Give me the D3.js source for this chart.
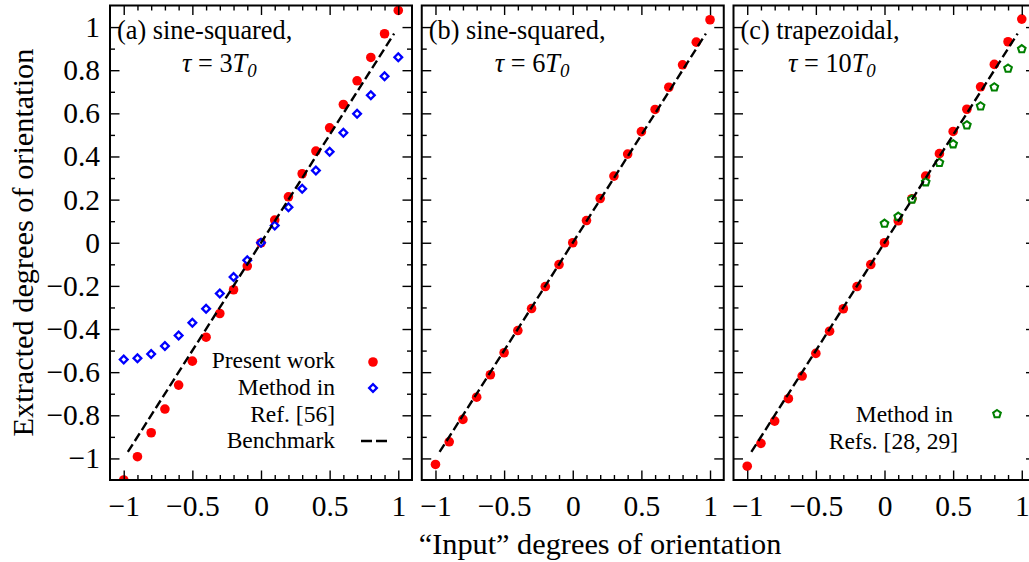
<!DOCTYPE html>
<html>
<head>
<meta charset="utf-8">
<script src="https://cdn.jsdelivr.net/npm/d3@7"></script>
<style>
  html, body { margin: 0; padding: 0; background: #fff; }
  svg { display: block; }
  text { font-family: "Liberation Serif", "Times New Roman", serif; fill: #000; }
</style>
</head>
<body>
<svg id="chart" width="1029" height="562" font-family="Liberation Serif"></svg>
<script>
// ---------------- data ----------------
const inputX = [-1, -0.9, -0.8, -0.7, -0.6, -0.5, -0.4, -0.3, -0.2, -0.1, 0,
                0.1, 0.2, 0.3, 0.4, 0.5, 0.6, 0.7, 0.8, 0.9, 1];
const presentA = [-1.10, -0.992, -0.881, -0.771, -0.660, -0.549, -0.438, -0.328, -0.218, -0.108, 0,
                  0.105, 0.213, 0.320, 0.425, 0.533, 0.641, 0.751, 0.859, 0.969, 1.077];
const ref56A = [-0.541, -0.536, -0.516, -0.479, -0.430, -0.371, -0.306, -0.235, -0.159, -0.081, 0,
                0.080, 0.165, 0.250, 0.335, 0.422, 0.510, 0.598, 0.684, 0.772, 0.860];
const presentB = [-1.028, -0.923, -0.819, -0.716, -0.612, -0.510, -0.407, -0.305, -0.203, -0.101, 0,
                  0.103, 0.205, 0.309, 0.411, 0.515, 0.618, 0.721, 0.825, 0.930, 1.034];
const presentC = [-1.036, -0.930, -0.827, -0.723, -0.618, -0.513, -0.410, -0.306, -0.203, -0.101, 0,
                  0.102, 0.204, 0.309, 0.413, 0.516, 0.619, 0.723, 0.827, 0.932, 1.037];
const refs2829X = [0, 0.1, 0.2, 0.3, 0.4, 0.5, 0.6, 0.7, 0.8, 0.9, 1];
const refs2829C = [0.089, 0.121, 0.201, 0.281, 0.371, 0.457, 0.545, 0.633, 0.721, 0.808, 0.898];
const benchmarkX = [-0.97, 0.97];
const benchmarkY = [-0.97, 0.97];

const xTickLabels = [-1, -0.5, 0, 0.5, 1];
const yTickLabels = [-1, -0.8, -0.6, -0.4, -0.2, 0, 0.2, 0.4, 0.6, 0.8, 1];
const panelTitles = ["(a) sine-squared,", "(b) sine-squared,", "(c) trapezoidal,"];
const panelTau = ["3", "6", "10"];
const legendA = ["Present work", "Method in", "Ref. [56]", "Benchmark"];
const legendC = ["Method in", "Refs. [28, 29]"];
const xLabel = "\u201CInput\u201D degrees of orientation";
const yLabel = "Extracted degrees of orientation";

// ---------------- layout ----------------
const panelW = 302, panelH = 474.5, panelTop = 5.5, firstLeft = 110, gap = 9.75;
const RED = "#ff0000", BLUE = "#0000ff", GREEN = "#008000";
const tickFont = 29.5, labelFont = 30.3, titleFont = 26.3, legendFont = 23.5;
const FONT = "Liberation Serif";

const svg = d3.select("#chart");

const x = d3.scaleLinear().domain([-1.1, 1.1]).range([0, panelW]);
const y = d3.scaleLinear().domain([-1.1, 1.1]).range([panelH, 0]);

const xMinor = d3.range(-10, 11).map(d => d / 10);
const yMinor = d3.range(-10, 11).map(d => d / 10);

// pentagon symbol
const pentagon = {
  draw(ctx, size) {
    const r = Math.sqrt(size / 2.378);
    for (let i = 0; i < 5; i++) {
      const a = -Math.PI / 2 + i * 2 * Math.PI / 5;
      const px = r * Math.cos(a), py = r * Math.sin(a);
      if (i === 0) ctx.moveTo(px, py); else ctx.lineTo(px, py);
    }
    ctx.closePath();
  }
};
const diamondPath = d3.symbol(d3.symbolSquare, 30)();
const pentaPath = d3.symbol(pentagon, 38)();

const panels = [
  { present: presentA, other: ref56A, otherX: inputX, otherType: "diamond", tauOffset: 72 },
  { present: presentB, other: null, tauOffset: 73 },
  { present: presentC, other: refs2829C, otherX: refs2829X, otherType: "penta", tauOffset: 54.5 }
];

const defs = svg.append("defs");

panels.forEach((p, i) => {
  const left = firstLeft + i * (panelW + gap);
  const g = svg.append("g").attr("transform", `translate(${left},${panelTop})`);

  defs.append("clipPath").attr("id", "clip" + i)
    .append("rect").attr("x", 0).attr("y", 0).attr("width", panelW).attr("height", panelH);

  const plot = g.append("g").attr("clip-path", `url(#clip${i})`);

  // present work: red circles
  plot.selectAll("circle.present").data(inputX.map((v, k) => [v, p.present[k]]))
    .join("circle").attr("class", "present")
    .attr("cx", d => x(d[0])).attr("cy", d => y(d[1])).attr("r", 4.8)
    .attr("fill", RED);

  // other method
  if (p.other) {
    const pts = p.otherX.map((v, k) => [v, p.other[k]]);
    plot.selectAll("path.other").data(pts).join("path").attr("class", "other")
      .attr("d", p.otherType === "diamond" ? diamondPath : pentaPath)
      .attr("transform", d => `translate(${x(d[0])},${y(d[1])})` + (p.otherType === "diamond" ? " rotate(45)" : ""))
      .attr("fill", "#fff")
      .attr("stroke", p.otherType === "diamond" ? BLUE : GREEN)
      .attr("stroke-width", p.otherType === "diamond" ? 2.3 : 2.1);
  }

  // benchmark
  plot.append("path")
    .datum(benchmarkX.map((v, k) => [v, benchmarkY[k]]))
    .attr("d", d3.line().x(d => x(d[0])).y(d => y(d[1])))
    .attr("fill", "none").attr("stroke", "#000").attr("stroke-width", 2.4)
    .attr("stroke-dasharray", "9,4");

  // ticks (inside, all four sides)
  const tickStyle = sel => {
    sel.select(".domain").remove();
    sel.selectAll("line").attr("stroke", "#000").attr("stroke-width", 1.4);
    sel.selectAll("text").remove();
  };
  const minorX = xMinor.filter(v => Math.abs(v * 2 - Math.round(v * 2)) > 1e-6);
  const majorX = xTickLabels;
  const minorY = yMinor.filter(v => Math.abs(v * 5 - Math.round(v * 5)) > 1e-6);
  const majorY = yTickLabels;

  g.append("g").attr("transform", `translate(0,${panelH})`)
    .call(d3.axisBottom(x).tickValues(minorX).tickSize(-5).tickFormat("")).call(tickStyle);
  g.append("g").attr("transform", `translate(0,${panelH})`)
    .call(d3.axisBottom(x).tickValues(majorX).tickSize(-9.5).tickFormat("")).call(tickStyle);
  g.append("g")
    .call(d3.axisTop(x).tickValues(minorX).tickSize(-5).tickFormat("")).call(tickStyle);
  g.append("g")
    .call(d3.axisTop(x).tickValues(majorX).tickSize(-9.5).tickFormat("")).call(tickStyle);
  g.append("g")
    .call(d3.axisLeft(y).tickValues(minorY).tickSize(-5).tickFormat("")).call(tickStyle);
  g.append("g")
    .call(d3.axisLeft(y).tickValues(majorY).tickSize(-9.5).tickFormat("")).call(tickStyle);
  g.append("g").attr("transform", `translate(${panelW},0)`)
    .call(d3.axisRight(y).tickValues(minorY).tickSize(-5).tickFormat("")).call(tickStyle);
  g.append("g").attr("transform", `translate(${panelW},0)`)
    .call(d3.axisRight(y).tickValues(majorY).tickSize(-9.5).tickFormat("")).call(tickStyle);

  // frame
  g.append("rect").attr("x", 0).attr("y", 0).attr("width", panelW).attr("height", panelH)
    .attr("fill", "none").attr("stroke", "#000").attr("stroke-width", 2);

  // x tick labels
  const xl = g.append("g").attr("transform", `translate(0,${panelH})`)
    .call(d3.axisBottom(x).tickValues(xTickLabels).tickSize(0).tickPadding(15)
      .tickFormat(d3.format("")));
  xl.attr("font-family", FONT).select(".domain").remove();
  xl.selectAll("text").attr("font-size", tickFont).attr("font-family", FONT);

  // y tick labels (only first panel)
  if (i === 0) {
    const yl = g.append("g")
      .call(d3.axisLeft(y).tickValues(yTickLabels).tickSize(0).tickPadding(10)
        .tickFormat(d3.format("")));
    yl.attr("font-family", FONT).select(".domain").remove();
    yl.selectAll("text").attr("font-size", tickFont).attr("font-family", FONT);
  }

  // panel title
  g.append("text").attr("x", 7).attr("y", 39 - panelTop)
    .attr("font-size", titleFont).text(panelTitles[i]);
  const t2 = g.append("text").attr("x", p.tauOffset).attr("y", 72 - panelTop)
    .attr("font-size", titleFont);
  t2.append("tspan").attr("font-style", "italic").text("\u03C4");
  t2.append("tspan").text(" = " + panelTau[i]);
  t2.append("tspan").attr("font-style", "italic").text("T");
  t2.append("tspan").attr("font-style", "italic").attr("font-size", titleFont * 0.72)
    .attr("dy", 5).text("0");
});

// legend (a)
const legA = svg.append("g");
[368, 395, 422, 448].forEach((by, k) => {
  legA.append("text").attr("x", 335).attr("y", by).attr("text-anchor", "end")
    .attr("font-size", legendFont).text(legendA[k]);
});
legA.append("circle").attr("cx", 373).attr("cy", 362).attr("r", 4.8).attr("fill", RED);
legA.append("path").attr("d", diamondPath).attr("transform", "translate(373,388) rotate(45)")
  .attr("fill", "#fff").attr("stroke", BLUE).attr("stroke-width", 2.3);
legA.append("line").attr("x1", 361).attr("x2", 387).attr("y1", 441).attr("y2", 441)
  .attr("stroke", "#000").attr("stroke-width", 2.4).attr("stroke-dasharray", "11,4");

// legend (c)
const legC = svg.append("g");
legC.append("text").attr("x", 953).attr("y", 422).attr("text-anchor", "end")
  .attr("font-size", legendFont).text(legendC[0]);
legC.append("text").attr("x", 958).attr("y", 449).attr("text-anchor", "end")
  .attr("font-size", legendFont).text(legendC[1]);
legC.append("path").attr("d", pentaPath).attr("transform", "translate(997,414)")
  .attr("fill", "#fff").attr("stroke", GREEN).attr("stroke-width", 2.1);

// axis labels
svg.append("text").attr("x", 600).attr("y", 554).attr("text-anchor", "middle")
  .attr("font-size", labelFont).text(xLabel);
svg.append("text").attr("transform", "translate(33,242.5) rotate(-90)")
  .attr("text-anchor", "middle").attr("font-size", labelFont).text(yLabel);
</script>
</body>
</html>
